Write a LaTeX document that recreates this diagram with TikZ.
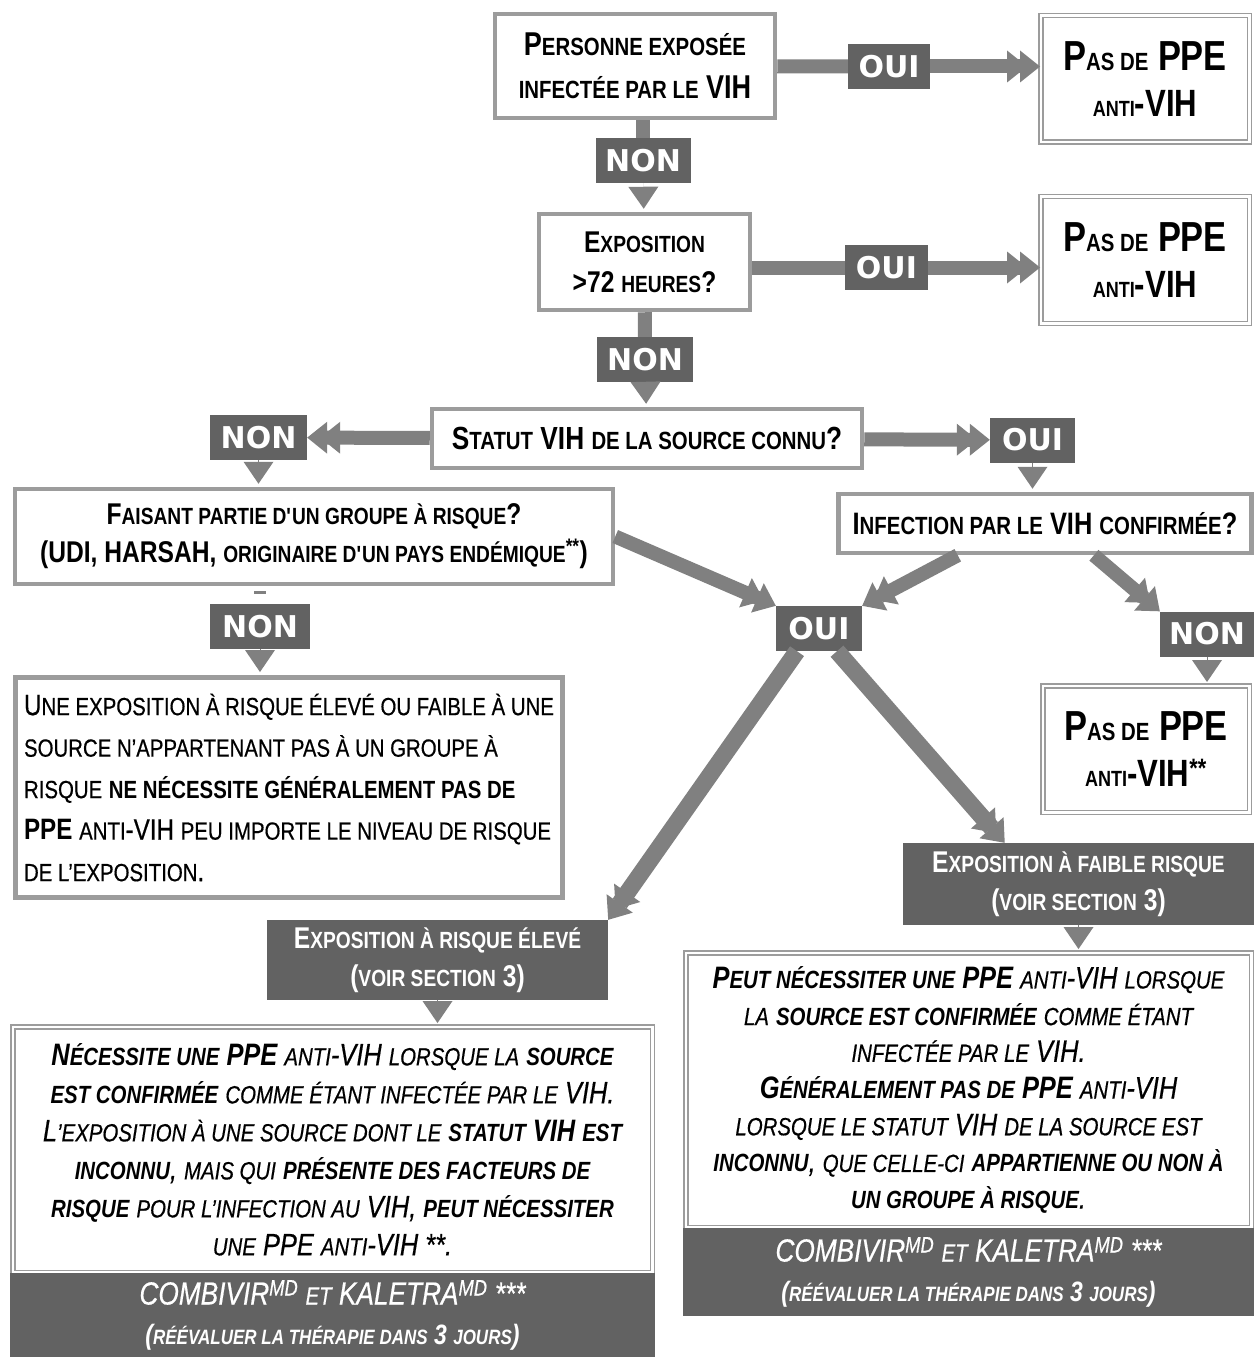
\documentclass[tikz,border=0pt]{standalone}
\usepackage{fontspec}
\usepackage{relsize}
\setmainfont{Liberation Sans}[FakeStretch=0.82,
  UprightFeatures={FakeBold=0.5}, ItalicFeatures={FakeBold=0.5}]
\newfontfamily\lblfont{DejaVu Sans}
\usetikzlibrary{arrows.meta,calc,positioning}

\definecolor{boxgray}{HTML}{9C9C9C}
\definecolor{arrgray}{HTML}{808080}
\definecolor{lblgray}{HTML}{626262}

% fake small caps
\newcommand\sm[1]{\textscale{0.78}{#1}}
\newcommand\tn[1]{\textscale{0.8}{#1}}
\newcommand\pasppe[1]{P\textscale{0.73}{AS DE} PPE\\
  {\fontsize{22}{22}\selectfont ANTI}{\fontsize{38}{38}\selectfont -VIH#1}}
\newcommand\therapie{COMBIVIR\textsuperscript{MD} \tn{ET} KALETRA\textsuperscript{MD} ***\\
  {\fontsize{28}{28}\selectfont\bfseries(\textscale{0.75}{RÉÉVALUER LA THÉRAPIE DANS} 3 \textscale{0.75}{JOURS})}}

\tikzset{
  box/.style={draw=boxgray, line width=4.5pt, fill=white, align=center, inner sep=0pt},
  dbox/.style={draw=boxgray, double=white, double distance=2.5pt, line width=1.5pt,
    fill=white, align=center, inner sep=0pt},
  lbl/.style={fill=lblgray, text=white, inner sep=0pt, minimum height=45pt,
    font=\lblfont\bfseries\fontsize{30}{30}\selectfont},
  bar/.style={fill=lblgray, text=white!94, align=center, inner sep=0pt},
  link/.style={draw=arrgray, line width=14pt},
  flow/.style={link, -{Triangle[length=20pt,width=32pt,line width=0pt,sep=-7pt]
    Triangle[length=20pt,width=32pt,line width=0pt]}},
  ptr/.style={draw=arrgray, line width=0.1pt,
    -{Triangle[length=22pt,width=30pt,line width=0pt]}, shorten >=3pt}
}

\begin{document}
\begin{tikzpicture}[x=1pt,y=-1pt]
  \fill[white] (0,0) rectangle (1254,1359);
  \useasboundingbox (0,0) rectangle (1254,1359);

  % first questions
  \node[box, minimum width=280pt, minimum height=104pt,
    font=\bfseries\fontsize{33}{43}\selectfont] (pers) at (635,66)
    {P\sm{ERSONNE EXPOSÉE}\\\sm{INFECTÉE PAR LE} VIH};
  \node[lbl, minimum width=82pt] (oui1) at (889,66.5) {OUI};
  \node[dbox, minimum width=208.5pt, minimum height=126.5pt,
    font=\bfseries\fontsize{42}{46}\selectfont] (pas1) at (1145,79) {\pasppe{}};
  \node[lbl, minimum width=95pt] (non1) at (643,160.5) {NON};

  \node[box, minimum width=211pt, minimum height=96pt,
    font=\bfseries\fontsize{30}{40}\selectfont] (expo) at (644.5,262)
    {E\sm{XPOSITION}\\>72 \sm{HEURES}?};
  \node[lbl, minimum width=83pt] (oui2) at (886.5,267.5) {OUI};
  \node[dbox, minimum width=208.5pt, minimum height=126.5pt,
    font=\bfseries\fontsize{42}{46}\selectfont] (pas2) at (1145,260) {\pasppe{}};
  \node[lbl, minimum width=96pt] (non2) at (645,359.5) {NON};

  \node[box, minimum width=430pt, minimum height=59pt,
    font=\bfseries\fontsize{32}{32}\selectfont] (statut) at (647,438.5)
    {S\sm{TATUT} VIH \sm{DE LA SOURCE CONNU}?};
  \node[lbl, minimum width=97pt] (non3) at (258.5,437.5) {NON};
  \node[lbl, minimum width=85pt] (oui3) at (1032.5,440) {OUI};

  \node[box, minimum width=598pt, minimum height=95pt,
    font=\bfseries\fontsize{30}{38}\selectfont] (faisant) at (314,536.5)
    {F\sm{AISANT PARTIE D\textquotesingle UN GROUPE À RISQUE}?\\
     (UDI, HARSAH, \sm{ORIGINAIRE D\textquotesingle UN PAYS ENDÉMIQUE}\textsuperscript{**})};
  \node[box, minimum width=413pt, minimum height=59pt,
    font=\bfseries\fontsize{31}{31}\selectfont] (infect) at (1045,523.5)
    {I\sm{NFECTION PAR LE} VIH \sm{CONFIRMÉE}?};

  \node[lbl, minimum width=86pt] (oui4) at (819,628.5) {OUI};
  \node[lbl, minimum width=100pt] (non4) at (260,626.5) {NON};
  \node[lbl, minimum width=94pt] (non5) at (1207,634) {NON};
  \node[dbox, minimum width=206.5pt, minimum height=126.5pt,
    font=\bfseries\fontsize{42}{46}\selectfont] (pas3) at (1146,749)
    {\pasppe{\textsuperscript{**}}};

  \node[box, line width=5pt, minimum width=547pt, minimum height=220pt, align=left,
    font=\fontsize{29.5}{41.5}\selectfont] (une) at (289,787.5)
    {U\tn{NE EXPOSITION À RISQUE ÉLEVÉ OU FAIBLE À UNE}\\
     \tn{SOURCE N’APPARTENANT PAS À UN GROUPE À}\\
     \tn{RISQUE} \textbf{\tn{NE NÉCESSITE GÉNÉRALEMENT PAS DE}}\\
     \textbf{PPE} \tn{ANTI}-VIH \tn{PEU IMPORTE LE NIVEAU DE RISQUE}\\
     \tn{DE L’EXPOSITION}.};

  % exposure levels
  \node[bar, minimum width=341pt, minimum height=80pt,
    font=\bfseries\fontsize{30}{38}\selectfont] (eleve) at (437.5,960)
    {E\sm{XPOSITION À RISQUE ÉLEVÉ}\\(\sm{VOIR SECTION} 3)};
  \node[bar, minimum width=351pt, minimum height=82pt,
    font=\bfseries\fontsize{30}{38}\selectfont] (faible) at (1078.5,884)
    {E\sm{XPOSITION À FAIBLE RISQUE}\\(\sm{VOIR SECTION} 3)};

  \node[dbox, minimum width=639.5pt, minimum height=245.5pt,
    font=\itshape\fontsize{31}{38}\selectfont] (resL) at (332.5,1149.5)
    {\textbf{N\tn{ÉCESSITE UNE} PPE} \tn{ANTI}-VIH \tn{LORSQUE LA} \textbf{\tn{SOURCE}}\\
     \textbf{\tn{EST CONFIRMÉE}} \tn{COMME ÉTANT INFECTÉE PAR LE} VIH.\\
     L\tn{’EXPOSITION À UNE SOURCE DONT LE} \textbf{\tn{STATUT} VIH \tn{EST}}\\
     \textbf{\tn{INCONNU}}, \tn{MAIS QUI} \textbf{\tn{PRÉSENTE DES FACTEURS DE}}\\
     \textbf{\tn{RISQUE}} \tn{POUR L’INFECTION AU} VIH, \textbf{\tn{PEUT NÉCESSITER}}\\
     \tn{UNE} PPE \tn{ANTI}-VIH **.};
  \node[bar, below=0pt of resL, minimum width=645pt, minimum height=84pt,
    font=\itshape\fontsize{32}{40}\selectfont] (barL) {\therapie};

  \node[dbox, minimum width=565.5pt, minimum height=274.5pt,
    font=\itshape\fontsize{31}{36.7}\selectfont] (resR) at (968.5,1090)
    {\textbf{P\tn{EUT NÉCESSITER UNE} PPE} \tn{ANTI}-VIH \tn{LORSQUE}\\
     \tn{LA} \textbf{\tn{SOURCE EST CONFIRMÉE}} \tn{COMME ÉTANT}\\
     \tn{INFECTÉE PAR LE} VIH.\\
     \textbf{G\tn{ÉNÉRALEMENT PAS DE} PPE} \tn{ANTI}-VIH\\
     \tn{LORSQUE LE STATUT} VIH \tn{DE LA SOURCE EST}\\
     \textbf{\tn{INCONNU}}, \tn{QUE CELLE-CI} \textbf{\tn{APPARTIENNE OU NON À}}\\
     \textbf{\tn{UN GROUPE À RISQUE}}.};
  \node[bar, below=0pt of resR, minimum width=571pt, minimum height=88pt,
    font=\itshape\fontsize{32}{40}\selectfont] (barR) {\therapie};

  % connectors
  \draw[link] (pers) -- (oui1);
  \draw[flow] (oui1) -- (oui1 -| pas1.west);
  \draw[link] (pers.south -| non1) -- (non1);
  \draw[ptr] (non1) -- (expo);
  \draw[link] (expo.east |- oui2) -- (oui2);
  \draw[flow] (oui2) -- (oui2 -| pas2.west);
  \draw[link] (expo) -- (non2);
  \draw[ptr] (non2) -- (statut);
  \draw[flow] (statut) -- (non3);
  \draw[flow] (statut) -- (oui3);
  \draw[ptr] (non3) -- (non3 |- faisant.north);
  \draw[ptr] (oui3) -- (oui3 |- infect.north);
  \draw[flow] (faisant.east) -- (oui4.north west);
  \draw[flow] (infect.200) -- (oui4.north east);
  \draw[flow] (infect.-33) -- (non5.north west);
  \draw[ptr] (non5) -- (non5 |- pas3.north);
  \draw[arrgray, line width=3pt] ($(non4.north)+(-6,-11)$) -- ++(12,0);
  \draw[ptr] (non4) -- (non4 |- une.north);
  \draw[flow, line width=17pt] ($(oui4.south)+(-22,0)$) -- (eleve.north east);
  \draw[flow, line width=17pt] ($(oui4.south)+(18,0)$)
    -- ($(faible.north west)!0.29!(faible.north east)$);
  \draw[ptr] (eleve) -- (eleve |- resL.north);
  \draw[ptr] (faible) -- (faible |- resR.north);

\end{tikzpicture}
\end{document}
